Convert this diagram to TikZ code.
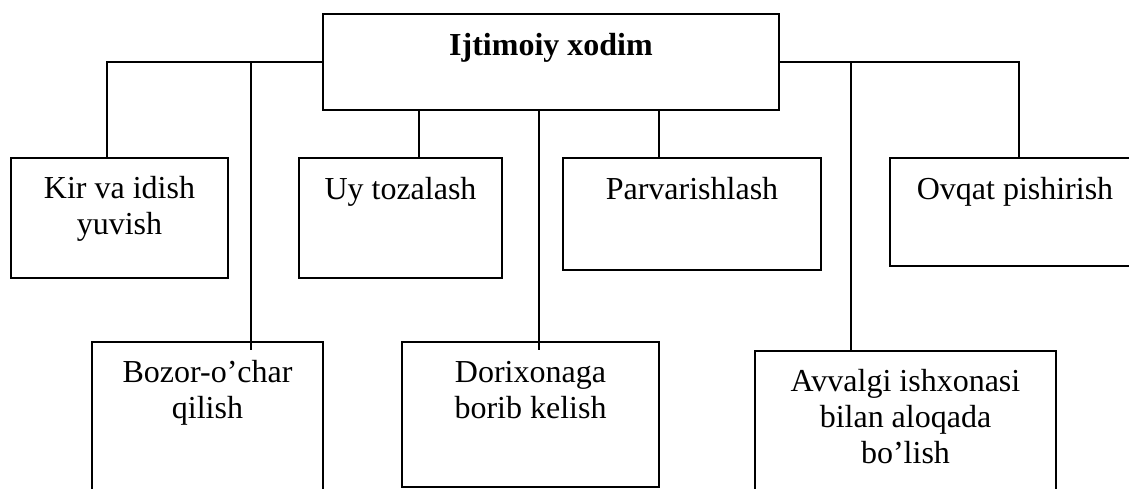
\documentclass[tikz,border=0pt]{standalone}
\usepackage{fontspec}
\setmainfont{Liberation Serif}
\begin{document}
\begin{tikzpicture}[x=1pt,y=-1pt,
  box/.style={draw, line width=1.3pt, rectangle, inner sep=0pt, outer sep=0pt},
  lbl/.style={anchor=base, inner sep=0pt, font=\fontsize{32}{36}\selectfont},
  conn/.style={line width=1.3pt}]
\useasboundingbox (0,0) rectangle (1129,488);
\clip (0,0) rectangle (1129,488);
% boxes
\node[box, minimum width=456pt, minimum height=96pt]  (top) at (551,62) {};
\node[box, minimum width=217pt, minimum height=120pt] (kir) at (119.5,218) {};
\node[box, minimum width=203pt, minimum height=120pt] (uy)  at (400.5,218) {};
\node[box, minimum width=258pt, minimum height=112pt] (par) at (692,214) {};
\node[box, minimum width=250pt, minimum height=108pt] (ovq) at (1015,212) {};
\node[box, minimum width=231pt, minimum height=158pt] (boz) at (207.5,421) {};
\node[box, minimum width=257pt, minimum height=145pt] (dor) at (530.5,414.5) {};
\node[box, minimum width=301pt, minimum height=149pt] (avv) at (905.5,425.5) {};
% labels
\node[lbl] (ttop) at ([yshift=-41pt]top.north) {\bfseries Ijtimoiy xodim};
\node[lbl] (tkir) at ([yshift=-40pt]kir.north) {\begin{tabular}[t]{@{}c@{}}Kir va idish\\yuvish\end{tabular}};
\node[lbl] (tuy)  at ([yshift=-41pt]uy.north)  {Uy tozalash};
\node[lbl] (tpar) at ([yshift=-41pt]par.north) {Parvarishlash};
\node[lbl] (tovq) at ([yshift=-41pt]ovq.north) {Ovqat pishirish};
\node[lbl] (tboz) at ([yshift=-40pt]boz.north) {\begin{tabular}[t]{@{}c@{}}Bozor-o’char\\qilish\end{tabular}};
\node[lbl] (tdor) at ([yshift=-40pt]dor.north) {\begin{tabular}[t]{@{}c@{}}Dorixonaga\\borib kelish\end{tabular}};
\node[lbl] (tavv) at ([yshift=-40pt]avv.north) {\begin{tabular}[t]{@{}c@{}}Avvalgi ishxonasi\\bilan aloqada\\bo’lish\end{tabular}};
% junctions
\coordinate (jk) at (107,62);
\coordinate (jb) at (251,62);
\coordinate (ju) at (419,110);
\coordinate (jd) at (539,110);
\coordinate (jp) at (659,110);
\coordinate (ja) at (851,62);
\coordinate (jo) at (1019,62);
% connectors
\draw[conn] (top.west) -- (jk) -- (jk |- kir.north);
\draw[conn] (jb) -- ([yshift=-8pt]jb |- boz.north);
\draw[conn] (ju) -- (ju |- uy.north);
\draw[conn] (jd) -- ([yshift=-8pt]jd |- dor.north);
\draw[conn] (jp) -- (jp |- par.north);
\draw[conn] (top.east) -- (jo) -- (jo |- ovq.north);
\draw[conn] (ja) -- (ja |- avv.north);
\end{tikzpicture}
\end{document}
